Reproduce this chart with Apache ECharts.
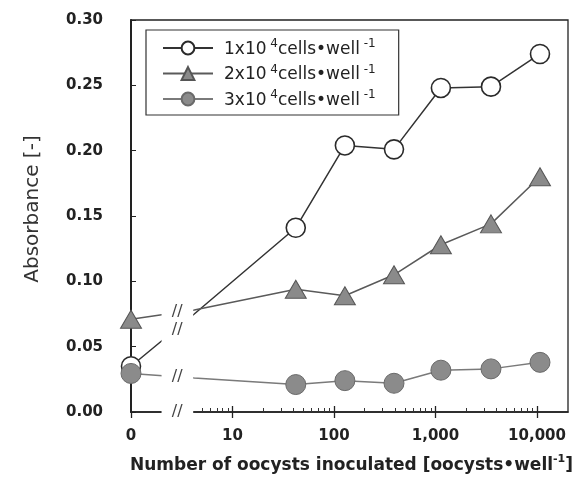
<!DOCTYPE html>
<html><head><meta charset="utf-8">
<script src="https://cdn.jsdelivr.net/npm/echarts@6/dist/echarts.min.js"></script>
<style>html,body{margin:0;padding:0;background:#fff}#c{width:585px;height:488px}</style>
</head><body><div id="c"></div>
<script>
// ---- data ----
const oocysts = [0, 42, 128, 390, 1130, 3520, 10700];
const abs1 = [0.035, 0.141, 0.204, 0.201, 0.248, 0.249, 0.274];
const abs2 = [0.071, 0.094, 0.089, 0.105, 0.128, 0.144, 0.180];
const abs3 = [0.0295, 0.021, 0.024, 0.022, 0.032, 0.033, 0.038];
// where each line resumes to the right of the axis break
const resumeX = 4.2;
const resume1 = 0.075, resume2 = 0.078, resume3 = 0.026;
const cellDensity = ['1', '2', '3'];
const seriesNames = ['1x10^4 cells/well (1)', '2x10^4 cells/well (2)', '3x10^4 cells/well (3)'];
const xTickValues = [0, 10, 100, 1000, 10000];
const xTickLabels = ['0', '10', '100', '1,000', '10,000'];
const xMinorTicks = [5, 6, 7, 8, 9, 20, 30, 40, 50, 60, 70, 80, 90, 200, 300, 400, 500, 600, 700, 800, 900,
  2000, 3000, 4000, 5000, 6000, 7000, 8000, 9000];
const xMax = 20200;
const yMin = 0, yMax = 0.30, yStep = 0.05;
const breakFrom = 2.0, breakTo = 4.1, breakMarkX = 2.85;
const breakMarkY = [0.077, 0.063, 0.027, 0.0];

// ---- helpers ----
const toV = x => x <= 0 ? 0 : Math.log10(x);
const FONT = 'DejaVu Sans';
function lineData(vals, resume) {
  const d = [[toV(oocysts[0]), vals[0]], { value: [toV(resumeX), resume], symbol: 'none' }];
  for (let i = 1; i < oocysts.length; i++) d.push([toV(oocysts[i]), vals[i]]);
  return d;
}
const tickPos = xTickValues.map(toV);
const minorPos = xMinorTicks.map(toV);

const chart = echarts.init(document.getElementById('c'));
const baseX = { type: 'value', min: 0, max: toV(xMax), gridIndex: 0, position: 'bottom', splitLine: { show: false } };

chart.setOption({
  animation: false,
  backgroundColor: '#fff',
  grid: { left: 131, right: 17, top: 20, bottom: 76, show: true, borderColor: '#222', borderWidth: 1.3 },
  legend: {
    left: 146, top: 30, orient: 'vertical',
    data: seriesNames,
    itemWidth: 50, itemHeight: 16, itemGap: 5.5,
    padding: [8, 23, 6, 16],
    borderColor: '#333', borderWidth: 1.2,
    formatter: name => {
      const i = seriesNames.indexOf(name);
      return '{g|}{m|' + cellDensity[i] + 'x10}{s| 4}{m|cells•well}{s| -1}';
    },
    textStyle: {
      fontFamily: FONT, fontSize: 17, color: '#222',
      rich: {
        g: { width: 6, lineHeight: 20 },
        m: { fontFamily: FONT, fontSize: 17, color: '#222', lineHeight: 20, verticalAlign: 'bottom' },
        s: { fontFamily: FONT, fontSize: 12, color: '#222', lineHeight: 12, verticalAlign: 'top' }
      }
    }
  },
  xAxis: [
    Object.assign({}, baseX, {
      name: '{b|Number of oocysts inoculated [oocysts•well}{sup|-1}{b|]}',
      nameLocation: 'middle', nameGap: 42,
      nameTextStyle: {
        padding: [0, 0, 0, 4],
        rich: {
          b: { fontFamily: FONT, fontWeight: 'bold', fontSize: 17, color: '#222', lineHeight: 20, verticalAlign: 'bottom' },
          sup: { fontFamily: FONT, fontWeight: 'bold', fontSize: 11, color: '#222', lineHeight: 11, verticalAlign: 'top' }
        }
      },
      axisLine: { show: true, lineStyle: { color: '#222', width: 1.5 } },
      axisTick: { show: true, inside: false, length: 6, customValues: tickPos, lineStyle: { color: '#222', width: 1.3 } },
      axisLabel: {
        show: true, margin: 17, customValues: tickPos,
        fontFamily: FONT, fontWeight: 'bold', fontSize: 15, color: '#222',
        formatter: v => {
          let best = 0;
          tickPos.forEach((p, i) => { if (Math.abs(p - v) < Math.abs(tickPos[best] - v)) best = i; });
          return xTickLabels[best];
        }
      }
    }),
    Object.assign({}, baseX, {
      axisLine: { show: false },
      axisTick: { show: true, inside: true, length: 6, customValues: tickPos.slice(1), lineStyle: { color: '#222', width: 1.3 } },
      axisLabel: { show: false }
    }),
    Object.assign({}, baseX, {
      axisLine: { show: false },
      axisTick: { show: true, inside: true, length: 4, customValues: minorPos, lineStyle: { color: '#333', width: 1 } },
      axisLabel: { show: false }
    })
  ],
  yAxis: {
    type: 'value', min: yMin, max: yMax, interval: yStep,
    name: 'Absorbance [-]', nameLocation: 'middle', nameGap: 88,
    nameTextStyle: { fontFamily: FONT, fontSize: 20, color: '#333', padding: [0, 0, 0, 14] },
    axisLine: { show: true, lineStyle: { color: '#222', width: 2 } },
    axisTick: { show: true, inside: true, length: 5, lineStyle: { color: '#222' } },
    axisLabel: { margin: 28, fontFamily: FONT, fontWeight: 'bold', fontSize: 15, color: '#222', formatter: v => v.toFixed(2) },
    splitLine: { show: false }
  },
  series: [
    {
      name: seriesNames[0], type: 'line', data: lineData(abs1, resume1),
      symbol: 'circle', symbolSize: 19,
      itemStyle: { color: '#fff', borderColor: '#2a2a2a', borderWidth: 1.6 },
      lineStyle: { color: '#333', width: 1.5 }, z: 3
    },
    {
      name: seriesNames[1], type: 'line', data: lineData(abs2, resume2),
      symbol: 'triangle', symbolSize: [21, 18],
      itemStyle: { color: '#8a8a8a', borderColor: '#555', borderWidth: 1 },
      lineStyle: { color: '#5a5a5a', width: 1.5 }, z: 4
    },
    {
      name: seriesNames[2], type: 'line', data: lineData(abs3, resume3),
      symbol: 'circle', symbolSize: 20,
      itemStyle: { color: '#8b8b8b', borderColor: '#6a6a6a', borderWidth: 1 },
      lineStyle: { color: '#7a7a7a', width: 1.5 }, z: 5
    },
    {
      type: 'custom', z: 20, silent: true, xAxisIndex: 0,
      data: [[toV(breakFrom), toV(breakTo)]],
      renderItem: (params, api) => {
        const a = api.coord([api.value(0), 0.1]);
        const b = api.coord([api.value(1), 0]);
        return { type: 'rect', shape: { x: a[0], y: a[1], width: b[0] - a[0], height: b[1] - a[1] + 4 }, style: { fill: '#fff' } };
      }
    },
    {
      type: 'custom', z: 21, silent: true, xAxisIndex: 0,
      data: breakMarkY.map(y => [toV(breakMarkX), y]),
      renderItem: (params, api) => {
        const p = api.coord([api.value(0), api.value(1)]);
        return { type: 'text', x: p[0], y: p[1], style: { text: '//', fill: '#444', fontFamily: FONT, fontSize: 16, align: 'center', verticalAlign: 'middle' } };
      }
    }
  ]
});
</script></body></html>
